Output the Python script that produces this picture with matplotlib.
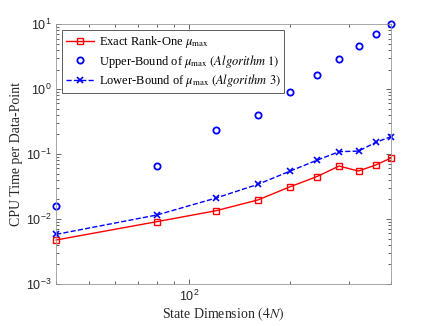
import matplotlib.pyplot as plt
import matplotlib.ticker as mticker
import numpy as np

# state dimension 4N
dims = [40, 80, 120, 160, 200, 240, 280, 320, 360, 400]
# CPU time per data-point
exact_t = [0.00475, 0.0091, 0.0134, 0.0196, 0.0314, 0.0448, 0.0653, 0.0547, 0.0678, 0.0867]
upper_t = [0.016, 0.0646, 0.231, 0.398, 0.89, 1.64, 2.9, 4.59, 6.93, 10.1]
lower_t = [0.0058, 0.01153, 0.0210, 0.0341, 0.0547, 0.080, 0.1087, 0.111, 0.151, 0.185]

plt.rcParams['mathtext.fontset'] = 'stix'
serif = ['Liberation Serif', 'DejaVu Serif']
grey = '#262626'

fig = plt.figure(figsize=(4.32, 3.26), dpi=100)
ax = fig.add_axes([0.13, 0.129, 0.775, 0.797])

ax.plot(dims, exact_t, '-s', color='red', lw=1.0, ms=4.3, mfc='none', mew=1.0,
        label=r'Exact Rank-One $\mu_{\max}$', clip_on=False)
ax.plot(dims, upper_t, 'o', color='blue', ms=4.5, mfc='none', mew=1.3,
        label=r'Upper-Bound of $\mu_{\max}$ $(\mathit{Algorithm\ 1})$', clip_on=False)
ax.plot(dims, lower_t, '--x', color='blue', lw=1.0, ms=4, mew=1.2,
        label=r'Lower-Bound of $\mu_{\max}$ $(\mathit{Algorithm\ 3})$', clip_on=False)

ax.set_xscale('log')
ax.set_yscale('log')
ax.set_xlim(40, 400)
ax.set_ylim(1e-3, 1e1)
ax.xaxis.set_minor_formatter(mticker.NullFormatter())

ax.tick_params(which='both', direction='in', top=True, right=True, colors=grey,
               labelsize=9, width=0.5)
ax.tick_params(which='major', length=3.5)
ax.tick_params(which='minor', length=2)
for lab in ax.get_xticklabels() + ax.get_yticklabels():
    lab.set_family(['Liberation Sans', 'DejaVu Sans'])
for sp in ax.spines.values():
    sp.set_color('#999999')
    sp.set_linewidth(0.6)

ax.set_xlabel(r'State Dimension $(4N)$', family=serif, fontsize=10, color=grey, labelpad=1)
ax.set_ylabel('CPU Time per Data-Point', family=serif, fontsize=10, color=grey, labelpad=2)

leg = ax.legend(loc='upper left', prop={'family': serif, 'size': 9}, fancybox=False,
                framealpha=1, edgecolor='#444444', borderpad=0.3, labelspacing=0.2,
                handlelength=2.2, handletextpad=0.4, borderaxespad=0.5)
leg.get_frame().set_linewidth(0.6)

fig.savefig('out.png', dpi=100)
